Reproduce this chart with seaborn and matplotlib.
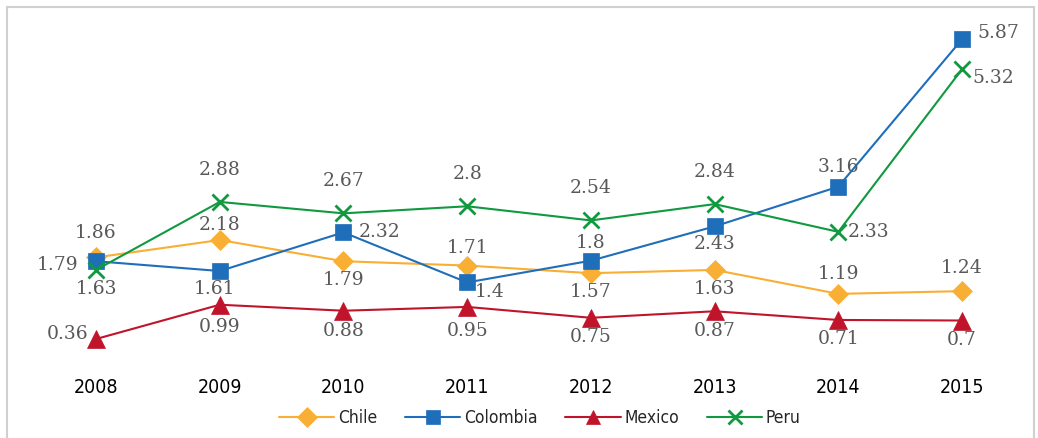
import matplotlib
matplotlib.use("Agg")
import matplotlib.pyplot as plt
import pandas as pd
import seaborn as sns
from matplotlib.patches import Rectangle
from matplotlib import font_manager

# data
years = ["2008", "2009", "2010", "2011", "2012", "2013", "2014", "2015"]
chile = [1.86, 2.18, 1.79, 1.71, 1.57, 1.63, 1.19, 1.24]
colombia = [1.79, 1.61, 2.32, 1.40, 1.80, 2.43, 3.16, 5.87]
mexico = [0.36, 0.99, 0.88, 0.95, 0.75, 0.87, 0.71, 0.70]
peru = [1.63, 2.88, 2.67, 2.80, 2.54, 2.84, 2.33, 5.32]
countries = ["Chile", "Colombia", "Mexico", "Peru"]

colors = {"Chile": "#F9AE34", "Colombia": "#1F6EBA", "Mexico": "#C0142A", "Peru": "#10993F"}
markers = {"Chile": "D", "Colombia": "s", "Mexico": "^", "Peru": "x"}
msize = {"Chile": 10, "Colombia": 12, "Mexico": 13, "Peru": 12}

# label offsets in pixels (dx, dy), per series/point
offsets = {
    "Chile": [(0, 24), (0, 15), (0, -19), (0, 18), (0, -19), (0, -19), (0, 20), (0, 23)],
    "Colombia": [(-38, -4), (-5, -18), (36, 0), (22, -10), (0, 18), (0, -18), (0, 20), (36, 6)],
    "Mexico": [(-28, 5), (0, -22), (0, -20), (0, -24), (0, -19), (0, -20), (0, -19), (0, -19)],
    "Peru": [(0, -19), (0, 32), (0, 32), (0, 32), (0, 32), (0, 32), (30, 0), (31, -9)],
}

# condensed font for axis text, if available
names = {f.name for f in font_manager.fontManager.ttflist}
narrow = None
for cand in ["Liberation Sans Narrow", "DejaVu Sans Condensed"]:
    if cand in names:
        narrow = cand
        break
narrow_kw = {"family": [narrow, "DejaVu Sans"]} if narrow else {"family": ["DejaVu Sans"], "stretch": "condensed"}

values = {"Chile": chile, "Colombia": colombia, "Mexico": mexico, "Peru": peru}
rows = []
for c in countries:
    for i, y in enumerate(years):
        rows.append({"year": i, "value": values[c][i], "country": c})
df = pd.DataFrame(rows)

sns.set_style("white")
fig = plt.figure(figsize=(10.38, 4.38), dpi=100)
ax = fig.add_axes([0.0329, 0.1813, 0.9535, 0.770])

for c in countries:
    sub = df[df["country"] == c]
    sns.lineplot(data=sub, x="year", y="value", ax=ax, color=colors[c],
                 marker=markers[c], markersize=msize[c], linewidth=1.5,
                 markeredgecolor=colors[c], markeredgewidth=2 if c == "Peru" else 0.5,
                 label=c, legend=False)

for c in countries:
    for i, v in enumerate(values[c]):
        dx, dy = offsets[c][i]
        ax.annotate(f"{v:g}", (i, v), xytext=(dx, dy), textcoords="offset pixels",
                    ha="center", va="center", fontsize=13.5, color="#595959",
                    family="DejaVu Serif")

ax.set_xlim(-0.5, 7.5)
ax.set_ylim(0, 6.2)
ax.set_xticks(range(len(years)))
ax.set_xticklabels(years, fontsize=14, color="black", **narrow_kw)
ax.tick_params(axis="x", length=0, pad=14)
ax.set_yticks([])
ax.set_xlabel("")
ax.set_ylabel("")
for s in ax.spines.values():
    s.set_visible(False)

handles, labels = ax.get_legend_handles_labels()
prop = dict(narrow_kw)
prop["size"] = 12.5
leg = fig.legend(handles, labels, loc="center", bbox_to_anchor=(0.52, 0.045), ncol=4,
                 frameon=False, handlelength=3.2, columnspacing=1.6, handletextpad=0.2,
                 prop=prop)
for h in leg.legend_handles:
    h.set_markersize(10)

# outer chart border
fig.patches.append(Rectangle((0.0065, -0.01), 0.99, 0.995, transform=fig.transFigure,
                             fill=False, edgecolor="#D0D0D0", linewidth=1.5))

fig.savefig("out.png", dpi=100)
